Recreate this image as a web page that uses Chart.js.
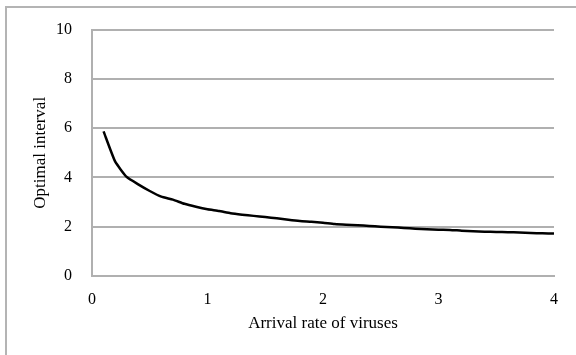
<!DOCTYPE html>
<html>
<head>
<meta charset="utf-8">
<script src="https://cdn.jsdelivr.net/npm/chart.js@4"></script>
<style>
  body { margin: 0; background: #fff; }
  #wrap { position: relative; width: 576px; height: 355px; }
  #frame { position: absolute; left: 5px; top: 6px; right: 0; bottom: 0;
           border-left: 2px solid #b4b4b4; border-top: 2px solid #b4b4b4; }
  canvas { position: absolute; left: 0; top: 0; }
</style>
</head>
<body>
<div id="wrap">
  <div id="frame"></div>
  <canvas id="chart" width="576" height="355"></canvas>
</div>
<script>
// arrival rate of viruses (x) and optimal interval (y)
const rates = [0.1, 0.2, 0.3, 0.4, 0.5, 0.6, 0.7, 0.8, 0.9, 1.0,
  1.1, 1.2, 1.3, 1.4, 1.5, 1.6, 1.7, 1.8, 1.9, 2.0,
  2.1, 2.2, 2.3, 2.4, 2.5, 2.6, 2.7, 2.8, 2.9, 3.0,
  3.1, 3.2, 3.3, 3.4, 3.5, 3.6, 3.7, 3.8, 3.9, 4.0];
const intervals = [5.87, 4.65, 4.02, 3.72, 3.45, 3.22, 3.10, 2.93, 2.81, 2.71,
  2.64, 2.55, 2.49, 2.44, 2.39, 2.34, 2.28, 2.23, 2.20, 2.16,
  2.11, 2.08, 2.06, 2.03, 2.00, 1.98, 1.95, 1.92, 1.90, 1.88,
  1.87, 1.84, 1.82, 1.80, 1.79, 1.78, 1.77, 1.75, 1.73, 1.72];
const xTicks = [0, 1, 2, 3, 4];
const yTicks = [0, 2, 4, 6, 8, 10];

const points = rates.map((r, i) => ({ x: r, y: intervals[i] }));
const family = "'Liberation Serif', 'Times New Roman', serif";
const tickFont = { family, size: 16 };
const titleFont = { family, size: 17 };

new Chart(document.getElementById("chart"), {
  type: "line",
  data: {
    datasets: [{
      data: points,
      borderColor: "#000",
      borderWidth: 2.5,
      pointRadius: 0,
      tension: 0.15,
      fill: false,
    }],
  },
  options: {
    responsive: false,
    animation: false,
    layout: { padding: { left: 0, top: 26, right: 22, bottom: 0 } },
    plugins: { legend: { display: false }, tooltip: { enabled: false } },
    scales: {
      x: {
        type: "linear",
        min: xTicks[0],
        max: xTicks[xTicks.length - 1],
        afterBuildTicks: (s) => { s.ticks = xTicks.map(v => ({ value: v })); },
        afterFit: (s) => { s.height = 79; },
        grid: { display: false, drawTicks: false },
        border: { display: true, color: "#b0b0b0", width: 2 },
        ticks: { color: "#000", font: tickFont, padding: 14, maxRotation: 0 },
        title: {
          display: true,
          text: "Arrival rate of viruses",
          color: "#000",
          font: titleFont,
          padding: { top: 0, bottom: 21 },
        },
      },
      y: {
        min: yTicks[0],
        max: yTicks[yTicks.length - 1],
        afterBuildTicks: (s) => { s.ticks = yTicks.map(v => ({ value: v })); },
        afterFit: (s) => { s.width = 92; },
        grid: { color: "#b0b0b0", lineWidth: 2, drawTicks: false },
        border: { display: true, color: "#b0b0b0", width: 2 },
        ticks: { color: "#000", font: tickFont, padding: 20 },
        title: {
          display: true,
          text: "Optimal interval",
          color: "#000",
          font: titleFont,
          padding: { top: 30, bottom: 0 },
        },
      },
    },
  },
});
</script>
</body>
</html>
